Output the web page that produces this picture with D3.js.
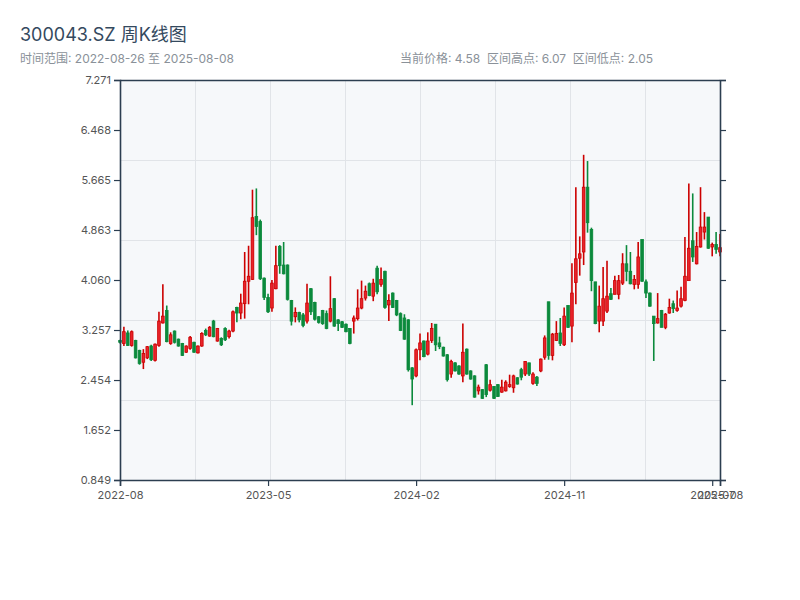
<!DOCTYPE html>
<html>
<head>
<meta charset="utf-8">
<script src="https://cdn.jsdelivr.net/npm/d3@7"></script>
<style>
  body { margin: 0; background: #fff; }
  svg { font-family: Inter, "Noto Sans CJK SC", sans-serif; }
</style>
</head>
<body>
<svg id="chart" width="800" height="600"></svg>
<script>
const startDate = "2022-08-26";
const open = [
3.09,3.04,3.21,3.01,3.09,2.93,2.74,2.81,3.00,2.77,
3.01,3.37,3.57,3.04,3.24,3.11,3.04,2.90,2.96,3.06,
2.89,3.00,3.25,3.16,3.40,3.08,3.12,3.28,3.15,3.24,
3.62,3.53,3.68,4.04,4.07,5.08,5.00,4.09,3.78,3.61,
3.92,4.60,4.30,4.30,3.73,3.47,3.54,3.50,3.40,3.92,
3.70,3.47,3.57,3.52,3.40,3.76,3.42,3.39,3.35,3.28,
3.40,3.44,3.61,3.77,4.00,3.80,4.25,3.99,4.20,3.66,
3.85,3.73,3.52,3.45,3.42,2.65,2.52,2.94,3.08,2.87,
3.09,3.35,3.05,2.98,2.86,2.55,2.73,2.68,2.52,2.95,
2.60,2.52,2.28,2.30,2.70,2.29,2.35,2.38,2.26,2.28,
2.35,2.33,2.49,2.62,2.55,2.73,2.40,2.50,2.60,2.82,
3.71,2.85,3.09,3.21,3.02,3.65,3.32,4.02,4.41,4.51,
5.55,4.87,4.03,3.40,3.40,3.56,3.84,3.83,3.83,4.01,
4.32,4.20,3.99,3.99,4.71,4.03,3.85,3.48,3.37,3.57,
3.30,3.53,3.68,3.57,3.64,3.73,4.05,4.69,4.32,4.59,
4.83,5.07,4.59,4.63,4.51];
const high = [
3.10,3.31,3.25,3.25,3.10,2.94,2.95,3.00,3.02,3.04,
3.55,3.99,3.65,3.22,3.25,3.12,3.05,3.01,3.16,3.07,
3.01,3.22,3.28,3.32,3.42,3.29,3.14,3.30,3.26,3.57,
3.63,3.84,4.51,4.61,5.51,5.53,5.03,4.10,3.84,4.06,
4.61,4.62,4.67,4.31,3.74,3.62,3.55,3.53,4.00,3.93,
3.71,3.48,3.58,3.57,4.12,3.77,3.43,3.40,3.36,3.29,
3.49,3.91,4.05,3.97,4.02,4.08,4.29,4.26,4.21,3.83,
3.86,3.74,3.54,3.51,3.43,2.66,2.96,3.20,3.09,3.22,
3.37,3.35,3.15,2.99,2.87,2.78,2.74,2.69,3.36,2.96,
2.61,2.53,2.38,2.31,2.71,2.46,2.36,2.39,2.46,2.45,
2.54,2.54,2.50,2.65,2.76,2.73,2.58,2.52,2.80,3.17,
3.71,3.21,3.40,3.45,3.62,3.66,4.33,5.55,4.76,6.07,
5.97,4.90,4.03,3.97,4.27,4.37,3.93,4.13,4.14,4.49,
4.62,4.51,4.14,4.67,4.71,4.07,3.86,3.48,3.85,3.58,
3.53,3.76,3.73,3.89,3.95,4.75,5.61,5.45,4.83,5.55,
5.15,5.07,4.66,4.83,4.80];
const low = [
3.04,3.00,3.00,2.99,2.80,2.70,2.63,2.79,2.76,2.75,
2.99,3.36,3.06,3.02,3.04,2.99,2.84,2.89,2.94,2.89,
2.88,2.99,3.16,3.15,3.14,3.07,3.00,3.08,3.12,3.22,
3.38,3.43,3.44,3.67,4.06,4.78,4.06,3.74,3.53,3.55,
3.91,4.16,4.15,3.73,3.33,3.38,3.38,3.30,3.36,3.50,
3.41,3.36,3.34,3.27,3.38,3.31,3.24,3.29,3.22,3.03,
3.20,3.41,3.59,3.73,3.80,3.72,3.83,3.95,3.60,3.40,
3.61,3.48,3.24,3.10,2.59,2.05,2.50,2.77,2.82,2.85,
3.05,2.92,2.95,2.83,2.43,2.49,2.59,2.54,2.42,2.54,
2.46,2.17,2.22,2.15,2.18,2.27,2.15,2.18,2.25,2.27,
2.33,2.25,2.38,2.45,2.52,2.52,2.38,2.36,2.58,2.78,
2.78,2.77,3.08,3.00,3.00,3.29,3.06,3.67,4.13,4.30,
4.82,3.88,3.35,3.22,3.32,3.53,3.74,3.83,3.75,3.98,
4.04,3.99,3.91,3.92,4.03,3.77,3.63,2.76,3.36,3.30,
3.27,3.52,3.53,3.55,3.62,3.72,4.05,4.35,4.31,4.58,
4.71,4.56,4.44,4.48,4.44];
const close = [
3.06,3.23,3.01,3.23,2.81,2.72,2.88,2.99,2.78,3.03,
3.40,3.48,3.07,3.18,3.06,3.00,2.85,3.00,3.14,2.90,
3.00,3.20,3.18,3.30,3.15,3.28,3.02,3.10,3.24,3.55,
3.53,3.69,4.04,4.12,5.06,4.92,4.08,3.78,3.55,4.01,
4.29,4.29,4.16,3.75,3.40,3.54,3.42,3.33,3.69,3.55,
3.43,3.38,3.36,3.28,3.60,3.32,3.36,3.30,3.23,3.04,
3.45,3.61,3.76,3.88,3.81,4.01,3.87,4.07,3.62,3.73,
3.62,3.50,3.25,3.11,2.62,2.47,2.94,3.05,2.83,3.08,
3.28,3.02,2.99,2.84,2.46,2.75,2.60,2.55,2.90,2.55,
2.47,2.18,2.34,2.16,2.22,2.38,2.16,2.19,2.34,2.42,
2.38,2.52,2.39,2.50,2.75,2.55,2.55,2.40,2.79,3.13,
2.85,3.19,3.20,3.04,3.48,3.30,3.85,4.40,4.48,5.55,
4.98,4.05,3.36,3.64,3.76,3.80,3.75,4.05,4.05,4.32,
4.20,4.00,4.07,4.43,4.04,3.85,3.64,3.36,3.44,3.30,
3.51,3.62,3.60,3.61,3.76,4.12,4.57,4.43,4.60,4.91,
4.91,4.57,4.63,4.55,4.58];

const yTickValues = [0.849,1.652,2.454,3.257,4.060,4.863,5.665,6.468,7.271];
const xTickIndex = [0,38,76,114,152,154];
const titleText = "300043.SZ 周K线图";
const rangeText = "时间范围: 2022-08-26 至 2025-08-08";
const statsText = "当前价格: 4.58  区间高点: 6.07  区间低点: 2.05";

const N = close.length;
const t0 = d3.timeParse("%Y-%m-%d")(startDate);
const dates = d3.range(N).map(i => d3.timeDay.offset(t0, 7 * i));
const fmtMonth = d3.timeFormat("%Y-%m");

const margin = {top: 80, right: 80, bottom: 120, left: 120};
const W = 800 - margin.left - margin.right;
const H = 600 - margin.top - margin.bottom;

const svg = d3.select("#chart");
const axisColor = "#2c3e50";
const labelColor = "#555";

svg.append("text").attr("x", 20).attr("y", 41)
  .attr("font-size", 18).attr("fill", "#34495e").text(titleText);
svg.append("text").attr("x", 20).attr("y", 63)
  .attr("font-size", 12).attr("fill", "#8a9199").text(rangeText);
svg.append("text").attr("x", 400).attr("y", 63)
  .attr("font-size", 12).attr("fill", "#8a9199")
  .style("white-space", "pre").text(statsText);

const g = svg.append("g").attr("transform", `translate(${margin.left},${margin.top})`);

const x = d3.scalePoint().domain(d3.range(N)).range([0, W]);
const y = d3.scaleLinear().domain([yTickValues[0], yTickValues[yTickValues.length - 1]]).range([H, 0]);

g.append("rect").attr("width", W).attr("height", H).attr("fill", "#f6f8fa");

const grid = g.append("g").attr("stroke", "#e1e4e8").attr("stroke-width", 1);
d3.range(1, 8).forEach(k => {
  grid.append("line").attr("x1", W * k / 8 + 0.5).attr("x2", W * k / 8 + 0.5).attr("y1", 0).attr("y2", H);
});
d3.range(1, 5).forEach(k => {
  grid.append("line").attr("y1", H * k / 5 + 0.5).attr("y2", H * k / 5 + 0.5).attr("x1", 0).attr("x2", W);
});

const step = x.step();
const bw = step * 0.68;
const upStroke = "#cc0000", upFill = "#e8232a", dnColor = "#0b8a3c";
const candles = g.append("g").selectAll("g").data(d3.range(N)).join("g");
candles.append("line")
  .attr("x1", i => x(i)).attr("x2", i => x(i))
  .attr("y1", i => y(high[i])).attr("y2", i => y(low[i]))
  .attr("stroke", i => close[i] >= open[i] ? upStroke : dnColor)
  .attr("stroke-width", 1.6);
candles.append("rect")
  .attr("x", i => x(i) - bw / 2)
  .attr("y", i => y(Math.max(open[i], close[i])))
  .attr("width", bw)
  .attr("height", i => Math.max(1, Math.abs(y(open[i]) - y(close[i]))))
  .attr("fill", i => close[i] >= open[i] ? upFill : dnColor)
  .attr("stroke", i => close[i] >= open[i] ? upStroke : dnColor)
  .attr("stroke-width", 0.8);

function styleAxis(sel) {
  sel.select(".domain").attr("stroke", axisColor).attr("stroke-width", 1.6);
  sel.selectAll(".tick line").attr("stroke", axisColor).attr("stroke-width", 1.2);
  sel.selectAll(".tick text").attr("fill", labelColor).attr("font-size", 11)
    .attr("font-family", "Inter, sans-serif");
}
g.append("line").attr("x1", 0).attr("x2", W).attr("y1", 0.5).attr("y2", 0.5)
  .attr("stroke", axisColor).attr("stroke-width", 1.6);
g.append("g").call(d3.axisLeft(y).tickValues(yTickValues).tickFormat(d3.format(".3f")).tickSize(6))
  .call(styleAxis);
g.append("g").attr("transform", `translate(${W},0)`)
  .call(d3.axisRight(y).tickValues(yTickValues).tickFormat("").tickSize(6))
  .call(styleAxis);
g.append("g").attr("transform", `translate(0,${H})`)
  .call(d3.axisBottom(x).tickValues(xTickIndex).tickFormat(i => fmtMonth(dates[i])).tickSize(6).tickPadding(5))
  .call(styleAxis);
</script>
</body>
</html>
